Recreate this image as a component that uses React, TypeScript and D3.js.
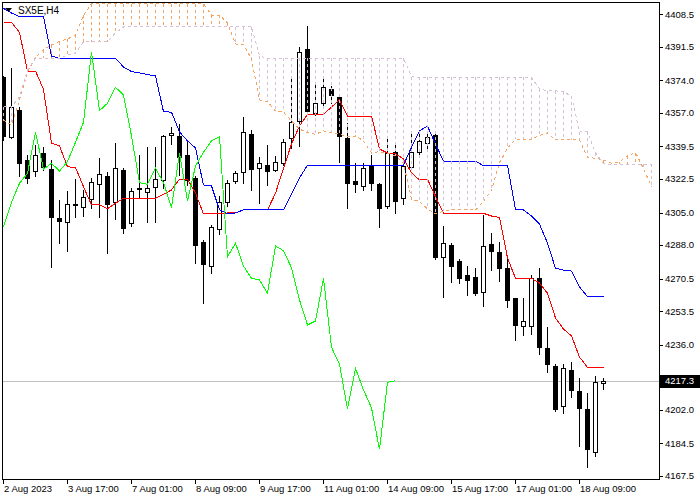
import React from 'react';
import * as d3 from 'd3';

const opens = [4375.9, 4344.5, 4358.6, 4332.5, 4326.9, 4336.1, 4327.7, 4302.2, 4300.2, 4309.7, 4307.8, 4311.9, 4319.8, 4324.1, 4310.7, 4327.2, 4299.4, 4317.6, 4315.9, 4318.5, 4322.0, 4345.4, 4345.0, 4335.1, 4322.9, 4289.8, 4277.1, 4296.3, 4310.7, 4321.5, 4326.3, 4346.0, 4328.1, 4329.9, 4327.2, 4330.7, 4343.8, 4352.9, 4390.4, 4357.1, 4362.0, 4369.4, 4365.2, 4344.1, 4321.5, 4318.9, 4329.5, 4319.9, 4308.6, 4336.5, 4312.5, 4328.9, 4336.8, 4341.2, 4345.5, 4281.7, 4288.1, 4279.7, 4272.4, 4271.2, 4263.7, 4288.6, 4284.6, 4275.9, 4260.2, 4245.8, 4245.9, 4270.7, 4234.2, 4224.9, 4204.2, 4222.8, 4211.9, 4202.5, 4180.2, 4215.9];
const highs = [4376.3, 4380.5, 4360.1, 4335.1, 4340.3, 4339.2, 4332.5, 4311.6, 4316.3, 4322.5, 4316.8, 4323.1, 4333.5, 4326.0, 4341.2, 4328.3, 4317.7, 4335.1, 4339.4, 4339.4, 4345.5, 4349.8, 4351.3, 4342.0, 4324.1, 4290.7, 4298.5, 4313.7, 4322.0, 4326.7, 4355.1, 4348.1, 4333.9, 4340.3, 4334.5, 4343.3, 4376.3, 4391.6, 4402.4, 4372.5, 4375.1, 4371.1, 4366.4, 4351.8, 4330.7, 4330.7, 4335.1, 4320.6, 4343.3, 4340.8, 4331.6, 4346.4, 4347.6, 4347.6, 4347.6, 4298.2, 4289.0, 4280.6, 4277.1, 4276.2, 4303.7, 4294.5, 4289.8, 4282.0, 4260.4, 4260.6, 4272.4, 4275.9, 4245.4, 4225.8, 4225.9, 4226.8, 4218.5, 4210.7, 4219.8, 4218.8];
const lows = [4342.9, 4344.0, 4324.1, 4320.4, 4324.1, 4327.2, 4276.8, 4289.1, 4285.1, 4302.9, 4303.2, 4307.6, 4302.9, 4284.0, 4301.6, 4294.2, 4298.0, 4312.4, 4300.2, 4300.2, 4318.0, 4340.8, 4324.6, 4319.4, 4278.5, 4257.6, 4273.3, 4293.8, 4308.4, 4320.5, 4320.6, 4316.8, 4309.8, 4319.4, 4326.7, 4329.9, 4338.6, 4339.9, 4356.5, 4356.0, 4360.3, 4362.2, 4331.6, 4307.6, 4315.9, 4316.8, 4316.8, 4297.6, 4307.2, 4304.6, 4309.3, 4328.6, 4334.2, 4338.6, 4280.6, 4260.8, 4268.9, 4268.4, 4262.0, 4262.0, 4256.4, 4275.0, 4269.4, 4255.9, 4238.5, 4241.1, 4241.6, 4231.0, 4221.9, 4201.6, 4200.2, 4208.9, 4183.1, 4172.3, 4177.9, 4212.9];
const closes = [4345.0, 4360.1, 4330.9, 4323.2, 4335.1, 4328.8, 4302.9, 4300.8, 4309.3, 4308.9, 4313.0, 4320.8, 4325.0, 4309.6, 4328.1, 4297.1, 4316.3, 4317.1, 4317.7, 4322.4, 4345.0, 4346.7, 4333.9, 4322.0, 4288.1, 4278.2, 4297.6, 4310.4, 4320.3, 4325.5, 4346.9, 4327.7, 4330.7, 4326.7, 4331.6, 4341.7, 4352.1, 4388.8, 4358.2, 4362.0, 4370.4, 4366.4, 4345.0, 4320.6, 4319.8, 4328.1, 4320.6, 4307.6, 4335.9, 4311.2, 4329.3, 4336.5, 4342.4, 4344.6, 4281.9, 4289.0, 4277.1, 4270.7, 4269.8, 4262.9, 4287.6, 4285.1, 4276.2, 4259.4, 4246.3, 4248.4, 4270.7, 4234.7, 4225.8, 4202.5, 4223.7, 4212.4, 4203.1, 4181.4, 4216.4, 4217.3];

const tenkan = [4404.3, 4404.3, 4399.1, 4378.9, 4378.9, 4369.3, 4341.2, 4339.8, 4328.9, 4328.5, 4318.5, 4309.0, 4309.0, 4307.0, 4309.8, 4312.5, 4312.5, 4312.5, 4312.5, 4312.5, 4314.6, 4316.8, 4322.4, 4322.4, 4315.2, 4304.3, 4304.3, 4304.3, 4304.8, 4304.8, 4306.4, 4306.4, 4306.4, 4306.4, 4315.1, 4328.1, 4340.8, 4350.2, 4356.3, 4356.3, 4356.3, 4360.1, 4363.8, 4355.4, 4355.4, 4355.4, 4355.4, 4338.2, 4336.1, 4335.6, 4333.0, 4325.8, 4322.0, 4322.4, 4313.3, 4304.6, 4304.6, 4304.6, 4304.6, 4304.6, 4304.6, 4303.2, 4302.5, 4281.3, 4270.7, 4270.7, 4270.7, 4268.2, 4262.9, 4250.0, 4244.2, 4240.6, 4229.6, 4224.2, 4224.2, 4224.2];
const kijun = [4411.6, 4409.2, 4407.2, 4407.2, 4407.2, 4407.2, 4386.7, 4385.5, 4385.5, 4385.5, 4385.5, 4385.5, 4385.5, 4385.5, 4385.5, 4381.0, 4378.6, 4377.9, 4377.1, 4376.3, 4357.7, 4357.4, 4347.1, 4342.4, 4338.7, 4319.4, 4318.9, 4306.4, 4304.5, 4304.8, 4306.4, 4306.4, 4306.4, 4306.4, 4306.4, 4306.4, 4314.7, 4323.1, 4329.8, 4329.8, 4329.8, 4329.8, 4329.8, 4329.8, 4329.8, 4329.8, 4329.8, 4329.8, 4329.8, 4329.8, 4329.8, 4339.2, 4347.6, 4350.2, 4340.8, 4331.8, 4331.8, 4331.8, 4331.8, 4331.8, 4329.5, 4329.5, 4329.5, 4329.5, 4306.7, 4306.4, 4303.2, 4299.0, 4289.1, 4275.9, 4275.0, 4274.5, 4266.2, 4261.1, 4261.1, 4261.1];
const spanA = [4353.3, 4350.7, 4363.8, 4378.4, 4386.2, 4389.9, 4392.5, 4394.3, 4395.6, 4397.7, 4408.1, 4413.9, 4413.9, 4413.9, 4413.9, 4413.9, 4413.9, 4413.9, 4413.9, 4413.9, 4413.9, 4413.9, 4413.9, 4413.9, 4413.9, 4413.9, 4408.1, 4408.1, 4403.9, 4393.0, 4392.5, 4385.2, 4363.8, 4362.9, 4358.0, 4357.5, 4352.8, 4348.6, 4346.7, 4345.9, 4347.6, 4346.8, 4345.8, 4344.7, 4345.0, 4342.4, 4336.1, 4336.8, 4336.0, 4334.6, 4330.7, 4312.1, 4310.7, 4306.9, 4304.3, 4305.8, 4306.4, 4306.4, 4306.4, 4306.4, 4310.8, 4316.8, 4330.9, 4338.7, 4343.3, 4343.3, 4343.3, 4345.2, 4346.6, 4342.9, 4342.9, 4342.9, 4342.9, 4334.0, 4333.3, 4332.5, 4330.7, 4331.4, 4334.6, 4336.3, 4328.0, 4318.5];
const spanB = [4360.3, 4360.3, 4365.3, 4379.4, 4385.5, 4385.5, 4385.5, 4385.5, 4387.3, 4388.3, 4394.2, 4394.2, 4394.2, 4394.2, 4398.7, 4401.9, 4402.0, 4402.0, 4402.0, 4402.0, 4402.0, 4402.0, 4402.0, 4402.0, 4402.0, 4402.0, 4402.0, 4402.0, 4402.0, 4402.0, 4402.0, 4402.0, 4386.7, 4385.5, 4385.5, 4385.5, 4385.5, 4385.5, 4385.5, 4385.5, 4385.5, 4385.5, 4385.5, 4385.5, 4385.5, 4385.5, 4385.5, 4385.5, 4385.5, 4385.5, 4385.5, 4376.0, 4375.6, 4375.6, 4375.6, 4375.6, 4375.6, 4375.6, 4375.6, 4375.6, 4375.6, 4375.6, 4375.6, 4375.6, 4375.6, 4375.6, 4375.6, 4369.5, 4368.6, 4368.5, 4368.2, 4365.6, 4347.2, 4347.2, 4336.1, 4330.7, 4330.1, 4330.1, 4330.1, 4330.1, 4330.1, 4330.1];

const chikouShift = 26;
const xTickBars = [0, 8, 16, 24, 32, 40, 48, 56, 64, 72];
const xTickLabels = ['2 Aug 2023', '3 Aug 17:00', '7 Aug 01:00', '8 Aug 09:00', '9 Aug 17:00', '11 Aug 01:00', '14 Aug 09:00', '15 Aug 17:00', '17 Aug 01:00', '18 Aug 09:00'];
const yTickValues = [4408.5, 4391.5, 4374.0, 4357.0, 4339.5, 4322.5, 4305.0, 4288.0, 4270.5, 4253.5, 4236.0, 4202.0, 4184.5, 4167.5];
const lastPrice = 4217.3;
const title = 'SX5E,H4';

const FONT = "'Liberation Sans', Arial, sans-serif";

export default function App() {
  const W = 700, H = 500;
  const L = 2, R = 659, T = 2, B = 479;
  const x = d3.scaleLinear().domain([0, 1]).range([3, 11]);
  const y = d3.scaleLinear().domain([4167.5, 4408.5]).range([476, 14.3]);
  const px = (i: number) => x(i) + 0.5;
  const ry = (v: number) => Math.round(y(v));

  const line = d3.line<number>().x((_, i) => px(i)).y((d) => y(d));
  const chikou = closes.slice(chikouShift);

  const candles = opens.map((o, i) => {
    const c = closes[i];
    const bull = c >= o;
    const top = Math.min(ry(o), ry(c));
    const bot = Math.max(ry(o), ry(c));
    const cx = x(i);
    return (
      <g key={'c' + i}>
        <line x1={cx + 0.5} x2={cx + 0.5} y1={ry(highs[i])} y2={ry(lows[i]) + 1} stroke="#000" strokeWidth={1} />
        {bull ? (
          <rect x={cx - 1.5} y={top + 0.5} width={4} height={Math.max(bot - top, 1)} fill="#fff" stroke="#000" strokeWidth={1} />
        ) : (
          <rect x={cx - 2} y={top} width={5} height={Math.max(bot - top + 1, 1)} fill="#000" />
        )}
      </g>
    );
  });

  const hatch = spanA.map((a, i) => {
    const b = spanB[i];
    const col = a >= b ? '#F4A460' : '#D8BFD8';
    return (
      <line key={'h' + i} x1={px(i)} x2={px(i)} y1={y(Math.max(a, b))} y2={y(Math.min(a, b))} stroke={col} strokeWidth={1} strokeDasharray="3,3" />
    );
  });

  const lastY = y(lastPrice);

  return (
    <svg width={W} height={H} style={{ position: 'absolute', left: 0, top: 0, background: '#fff' }} fontFamily={FONT}>
      <defs>
        <clipPath id="plot">
          <rect x={L} y={T} width={R - L} height={B - T} />
        </clipPath>
      </defs>
      <rect x={0} y={0} width={W} height={H} fill="#fff" />
      <g clipPath="url(#plot)" shapeRendering="crispEdges">
        <line x1={L} x2={R} y1={Math.round(lastY) + 0.5} y2={Math.round(lastY) + 0.5} stroke="#C0C0C0" strokeWidth={1} />
        {candles}
        <path d={line(tenkan) || ''} fill="none" stroke="#FF0000" strokeWidth={1} />
        <path d={line(kijun) || ''} fill="none" stroke="#0000FF" strokeWidth={1} />
        {hatch}
        <path d={line(chikou) || ''} fill="none" stroke="#00FF00" strokeWidth={1} />
        <path d={line(spanA) || ''} fill="none" stroke="#F4A460" strokeWidth={1} strokeDasharray="3,3" />
        <path d={line(spanB) || ''} fill="none" stroke="#D8BFD8" strokeWidth={1} strokeDasharray="3,3" />
      </g>
      <g shapeRendering="crispEdges">
        <rect x={L + 0.5} y={T + 0.5} width={R - L} height={B - T} fill="none" stroke="#000" strokeWidth={1} />
        {yTickValues.map((v) => (
          <line key={'yt' + v} x1={R} x2={R + 4} y1={Math.round(y(v)) + 0.5} y2={Math.round(y(v)) + 0.5} stroke="#000" />
        ))}
        {xTickBars.map((bi) => (
          <line key={'xt' + bi} x1={px(bi)} x2={px(bi)} y1={B} y2={B + 5} stroke="#000" />
        ))}
      </g>
      {yTickValues.map((v) => (
        <text key={'yl' + v} x={665} y={y(v)} dy="0.35em" fontSize={9.5} fill="#000">{v.toFixed(1)}</text>
      ))}
      {xTickBars.map((bi, k) => (
        <text key={'xl' + bi} x={x(bi) + 1} y={492} fontSize={9.5} fill="#000">{xTickLabels[k]}</text>
      ))}
      <rect x={660} y={Math.round(lastY) - 6} width={40} height={13} fill="#000" />
      <text x={665} y={lastY} dy="0.35em" fontSize={9.5} fill="#fff">{lastPrice.toFixed(1)}</text>
      <polygon points="5,8 12,8 8.5,12" fill="#000" />
      <text x={18} y={14} fontSize={10} fill="#000">{title}</text>
    </svg>
  );
}
